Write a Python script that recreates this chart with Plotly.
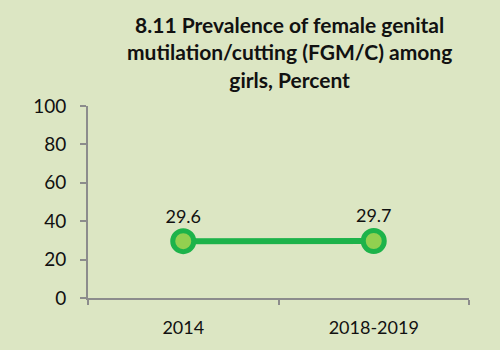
import plotly.graph_objects as go

categories = ["2014", "2018-2019"]
values = [29.6, 29.7]
y_ticks = [0, 20, 40, 60, 80, 100]
title_text = "<b>8.11 Prevalence of female genital<br>mutilation/cutting (FGM/C) among<br>girls, Percent</b>"

bg = "#dce6c3"
fig = go.Figure()
fig.add_trace(go.Scatter(
    x=categories, y=values, mode="lines+markers+text",
    text=[f"{v:.1f}" for v in values], textposition="top center",
    textfont=dict(size=18, color="#111111"),
    line=dict(color="#1db34a", width=6),
    marker=dict(size=21, color="#92d050", line=dict(color="#1db34a", width=5)),
    cliponaxis=False, showlegend=False,
))
fig.update_layout(
    width=500, height=350,
    paper_bgcolor=bg, plot_bgcolor=bg,
    margin=dict(l=88, r=31, t=106, b=52),
    font=dict(family="Lato, Open Sans, sans-serif", color="#111111"),
    annotations=[dict(
        text=title_text, xref="paper", yref="paper", x=0.53, y=1.5,
        xanchor="center", yanchor="top", showarrow=False, align="center",
        font=dict(size=21, color="#111111"),
    )],
)
fig.update_xaxes(
    type="category", range=[-0.5, 1.5], showline=True, linecolor="#8c8c8c", linewidth=2,
    ticks="outside", tickson="boundaries", ticklen=5, tickcolor="#8c8c8c", tickwidth=2,
    showgrid=False, tickfont=dict(size=18), zeroline=False, ticklabelstandoff=12,
)
fig.update_yaxes(
    range=[0, 100], tickvals=y_ticks, showline=True, linecolor="#8c8c8c", linewidth=2,
    ticks="outside", ticklen=6, tickcolor="#8c8c8c", tickwidth=2,
    showgrid=False, zeroline=False, tickfont=dict(size=19), ticklabelstandoff=10,
)
fig.write_html("out.html")
